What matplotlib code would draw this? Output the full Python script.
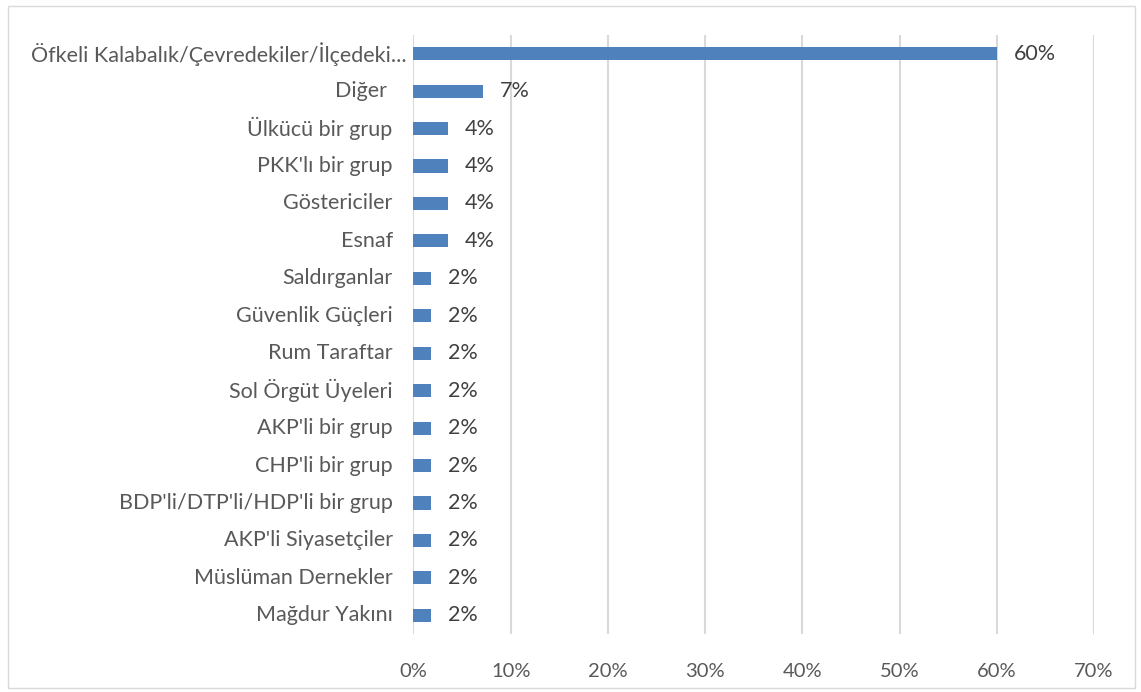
import matplotlib
matplotlib.use("Agg")
import matplotlib.pyplot as plt
from matplotlib.patches import Rectangle
from matplotlib.ticker import PercentFormatter

# category labels, top to bottom
categories = [
    "Öfkeli Kalabalık/Çevredekiler/İlçedeki...",
    "Diğer ",
    "Ülkücü bir grup",
    "PKK'lı bir grup",
    "Göstericiler",
    "Esnaf",
    "Saldırganlar",
    "Güvenlik Güçleri",
    "Rum Taraftar",
    "Sol Örgüt Üyeleri",
    "AKP'li bir grup",
    "CHP'li bir grup",
    "BDP'li/DTP'li/HDP'li bir grup",
    "AKP'li Siyasetçiler",
    "Müslüman Dernekler",
    "Mağdur Yakını",
]
shares = [0.600, 0.072, 0.036, 0.036, 0.036, 0.036, 0.018, 0.018,
          0.018, 0.018, 0.018, 0.018, 0.018, 0.018, 0.018, 0.018]
value_labels = ["60%", "7%", "4%", "4%", "4%", "4%", "2%", "2%",
                "2%", "2%", "2%", "2%", "2%", "2%", "2%", "2%"]
x_ticks = [0, 0.1, 0.2, 0.3, 0.4, 0.5, 0.6, 0.7]

plt.rcParams["font.family"] = ["Lato", "DejaVu Sans"]

fig = plt.figure(figsize=(11.41, 6.92), dpi=100)
ax = fig.add_axes([0.3624, 0.0838, 0.5964, 0.8656])

pos = list(range(len(categories)))
ax.barh(pos, shares, height=0.35, color="#4f81bd", zorder=3)
ax.set_ylim(len(categories) - 0.5, -0.5)
ax.set_xlim(0, 0.7)
ax.set_xticks(x_ticks)
ax.xaxis.set_major_formatter(PercentFormatter(1.0, decimals=0))
ax.tick_params(axis="x", length=0, pad=21, labelsize=14.5, labelcolor="#595959")
ax.set_yticks([])
ax.grid(axis="x", color="#d9d9d9", lw=1.5, zorder=0)
for s in ax.spines.values():
    s.set_visible(False)

for i, (cat, v, lab) in enumerate(zip(categories, shares, value_labels)):
    ax.annotate(cat, xy=(0, i), xycoords=("axes fraction", "data"),
                xytext=(-15 if i > 0 else -5, 0), textcoords="offset points",
                ha="right", va="center", fontsize=15.5, color="#595959")
    ax.annotate(lab, xy=(v, i), xytext=(12, 0), textcoords="offset points",
                ha="left", va="center", fontsize=15.5, color="#404040")

fig.patches.append(Rectangle((0.007, 0.006), 0.988, 0.985, transform=fig.transFigure,
                             fill=False, edgecolor="#d9d9d9", lw=1))

fig.savefig("out.png", dpi=100)
